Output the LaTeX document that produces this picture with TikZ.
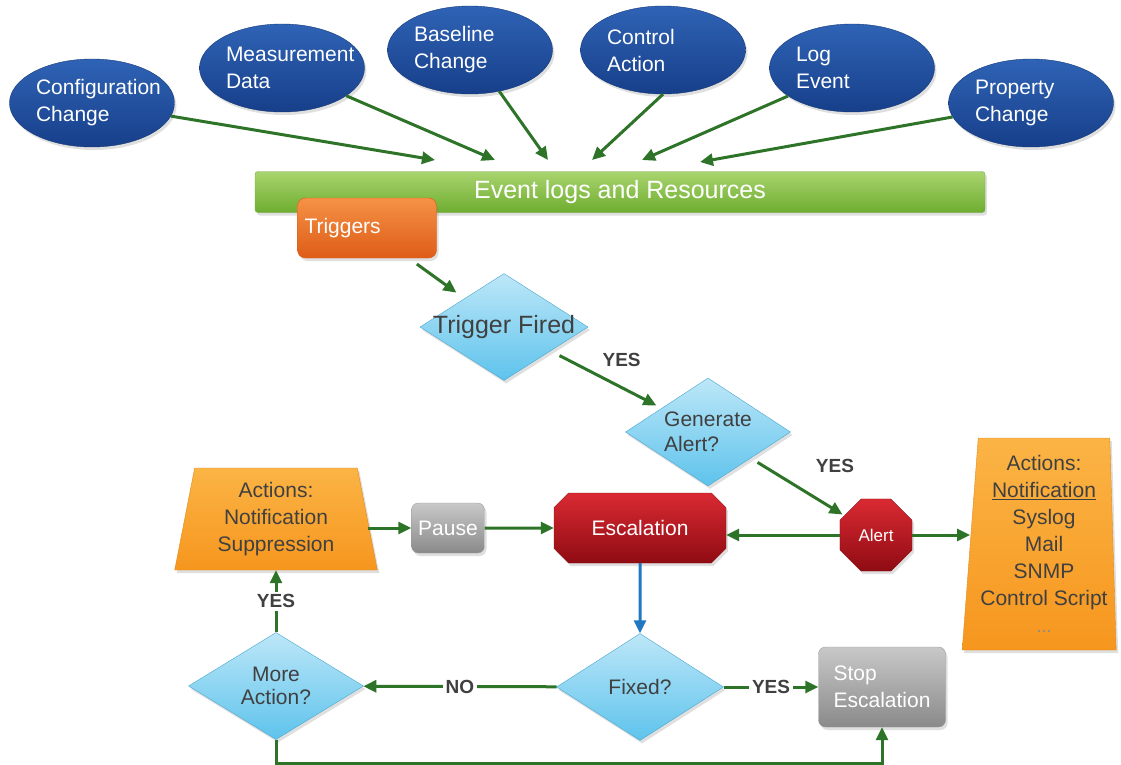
\documentclass[tikz,border=0pt]{standalone}
\usepackage{fontspec}
\setmainfont{Liberation Sans}
\usepackage{tikz}
\usetikzlibrary{arrows.meta, shapes, shadows, positioning}

\definecolor{ArrowGreen}{HTML}{2E7428}
\definecolor{FlowBlue}{HTML}{1F78C1}
\definecolor{SrcTop}{HTML}{2F63B5}
\definecolor{SrcBottom}{HTML}{173F8A}
\definecolor{SrcLine}{HTML}{163A78}
\definecolor{BarTop}{HTML}{A9D46E}
\definecolor{BarBottom}{HTML}{6EAD30}
\definecolor{BarLine}{HTML}{75A845}
\definecolor{TrigTop}{HTML}{F59245}
\definecolor{TrigBottom}{HTML}{DE5C18}
\definecolor{AskTop}{HTML}{BDE7F8}
\definecolor{AskBottom}{HTML}{5EC3EC}
\definecolor{AskLine}{HTML}{4AA6CE}
\definecolor{StopTop}{HTML}{DA2A33}
\definecolor{StopBottom}{HTML}{8F0B12}
\definecolor{GreyTop}{HTML}{C8C8C8}
\definecolor{GreyBottom}{HTML}{8A8A8A}
\definecolor{GreyLine}{HTML}{9A9A9A}
\definecolor{ActTop}{HTML}{FBB445}
\definecolor{ActBottom}{HTML}{F6961E}
\definecolor{ActLine}{HTML}{E08A20}
\definecolor{TextGray}{HTML}{404040}

\begin{document}
\begin{tikzpicture}[x=1pt, y=-1pt,
	soft/.style={drop shadow={opacity=0.25, shadow xshift=2pt, shadow yshift=-3pt}},
	source/.style={draw=SrcLine, ellipse, soft, top color=SrcTop, bottom color=SrcBottom, minimum width=165pt, minimum height=88pt, inner sep=0pt},
	sourcetext/.style={text=white, align=left, text width=140pt, inner sep=0pt, xshift=14pt, font=\fontsize{21}{27}\selectfont},
	question/.style={draw=AskLine, diamond, soft, top color=AskTop, bottom color=AskBottom, inner sep=0pt},
	questiontext/.style={text=TextGray, align=center, font=\fontsize{21}{25}\selectfont},
	greybox/.style={draw=GreyLine, rectangle, soft, rounded corners=7pt, top color=GreyTop, bottom color=GreyBottom, text=white, font=\fontsize{21}{27}\selectfont},
	redstop/.style={draw=StopBottom, soft, top color=StopTop, bottom color=StopBottom, text=white},
	actions/.style={draw=ActLine, trapezium, soft, trapezium stretches=true, top color=ActTop, bottom color=ActBottom, text=TextGray, align=center, inner sep=0pt, font=\fontsize{21}{27}\selectfont},
	flow/.style={draw=ArrowGreen, line width=3pt, -{Triangle[length=13pt, width=12pt]}},
	answer/.style={text=TextGray, inner sep=3pt, font=\fontsize{19}{19}\selectfont\bfseries}
]
	\useasboundingbox (0,0) rectangle (1121,765);

	% sources
	\node [source, label={[sourcetext]center:Configuration\\Change}] (Config) at (92,103) {};
	\node [source, label={[sourcetext]center:Measurement\\Data}] (Measure) at (282,68) {};
	\node [source, label={[sourcetext]center:Baseline\\Change}] (Baseline) at (470,50) {};
	\node [source, label={[sourcetext]center:Control\\Action}] (Control) at (663,50) {};
	\node [source, label={[sourcetext]center:Log\\Event}] (Log) at (852,68) {};
	\node [source, label={[sourcetext]center:Property\\Change}] (Property) at (1031,103) {};

	\node [draw=BarLine, rectangle, soft, rounded corners=3pt, top color=BarTop, bottom color=BarBottom, minimum width=730pt, minimum height=41pt, text=white, font=\fontsize{25}{25}\selectfont] (Events) at (620,192) {Event logs and Resources};
	\node [draw=TrigBottom, rectangle, soft, rounded corners=8pt, top color=TrigTop, bottom color=TrigBottom, text width=125pt, minimum height=60pt, inner sep=7pt, align=left, text=white, font=\fontsize{21}{27}\selectfont] (Triggers) at (367,228) {Triggers};

	\coordinate (In1) at (435,160);
	\coordinate (In2) at (495,160);
	\coordinate (In3) at (548,160);
	\coordinate (In4) at (592,160);
	\coordinate (In5) at (642,160);
	\coordinate (In6) at (700,162);

	% decisions
	\node [question, minimum width=168pt, minimum height=107pt, label={[questiontext, font=\fontsize{25}{25}\selectfont]center:Trigger Fired}] (Fired) at (504,327) {};
	\node [question, minimum width=165pt, minimum height=108pt, label={[questiontext, align=left]center:Generate\\Alert?}] (Generate) at (708,432) {};
	\node [question, minimum width=167pt, minimum height=107pt, label={[questiontext]center:Fixed?}] (Fixed) at (640,687) {};
	\node [question, minimum width=175pt, minimum height=107pt, label={[questiontext, font=\fontsize{21}{23}\selectfont]center:More\\Action?}] (More) at (276,686) {};

	% escalation row
	\node [redstop, regular polygon, regular polygon sides=8, minimum size=78pt, inner sep=0pt, font=\fontsize{17}{17}\selectfont] (Alert) at (876,535) {Alert};
	\node [redstop, chamfered rectangle, chamfered rectangle xsep=15pt, minimum width=172pt, minimum height=70pt, font=\fontsize{21}{21}\selectfont] (Escalation) at (640,528) {Escalation};
	\node [greybox, minimum width=73pt, minimum height=50pt, inner sep=2pt] (Pause) at (448,528) {Pause};
	\node [actions, trapezium left angle=79, trapezium right angle=79, minimum width=203pt, minimum height=102pt] (ActionsL) at (276,519) {Actions:\\Notification\\Suppression};
	\node [actions, trapezium left angle=85, trapezium right angle=88, minimum width=154pt, minimum height=212pt] (ActionsR) at (1044,544) {Actions:\\\underline{Notification}\\Syslog\\Mail\\SNMP\\Control Script\\{\color{TextGray!60}\fontsize{18}{27}\selectfont...}};
	\node [greybox, minimum width=127pt, minimum height=80pt, align=left] (Stop) at (882,687) {Stop\\Escalation};

	\coordinate (Loop) at (276,763);

	\draw [flow] (Config) -- (In1);
	\draw [flow] (Measure) -- (In2);
	\draw [flow] (Baseline) -- (In3);
	\draw [flow] (Control.south) -- (In4);
	\draw [flow] (Log) -- (In5);
	\draw [flow] (Property) -- (In6);
	\draw [flow, shorten <=10pt, shorten >=10pt] (Triggers) -- (Fired);
	\draw [flow, shorten <=10pt, shorten >=6pt] (Fired) -- (Generate) node [midway, above right, answer, xshift=-8pt, yshift=8pt] {YES};
	\draw [flow, shorten <=8pt, shorten >=2pt] (Generate) -- (Alert) node [midway, above right, answer, xshift=14pt, yshift=10pt] {YES};
	\draw [flow] (Alert.west) -- (Alert.west -| Escalation.east);
	\draw [flow] (Alert.east) -- (Alert.east -| ActionsR.west);
	\draw [flow] (Pause.west -| ActionsL.east) -- (Pause.west);
	\draw [flow] (Pause) -- (Escalation);
	\draw [flow, draw=FlowBlue] (Escalation) -- (Fixed);
	\draw [flow] (Fixed) -- (More) node [midway, answer, fill=white] {NO};
	\draw [flow] (More) -- (ActionsL) node [midway, answer, fill=white] {YES};
	\draw [flow] (Fixed) -- (Stop) node [midway, answer, fill=white] {YES};
	\draw [flow] (More.south) -- (Loop) -| (Stop.south);
\end{tikzpicture}
\end{document}
